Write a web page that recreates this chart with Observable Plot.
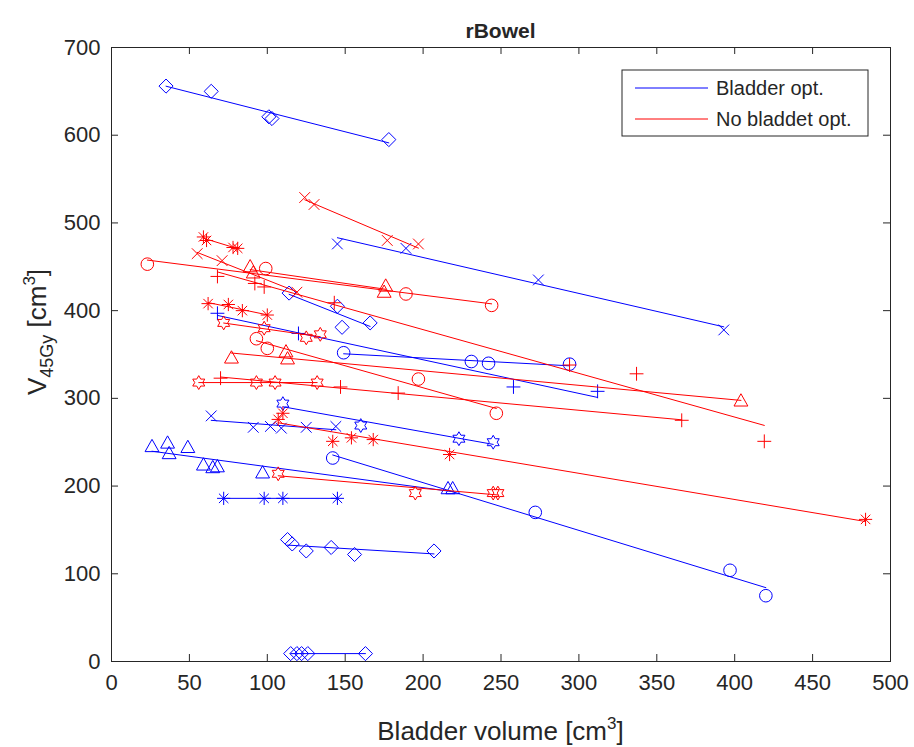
<!DOCTYPE html>
<html><head><meta charset="utf-8">
<script src="https://cdn.jsdelivr.net/npm/d3@7"></script>
<script src="https://cdn.jsdelivr.net/npm/@observablehq/plot@0.6"></script>
<style>html,body{margin:0;padding:0;background:#fff;} #chart svg{display:block;}</style>
</head><body><div id="chart"></div>
<script>
// ---- data (bladder volume [cm3], V45Gy [cm3]) ----
const xTicks = [0,50,100,150,200,250,300,350,400,450,500];
const yTicks = [0,100,200,300,400,500,600,700];
const groups = ["Bladder opt.", "No bladdet opt."];
const groupColors = ["#0000ff", "#ff0000"];

// Bladder opt. (blue)
const bDiamond1 = [[35,656],[64,650],[101,621],[103,619],[178,595]];
const bTimes1 = [[145,476],[189,471],[274,435],[393,378]];
const bDiamond2 = [[114,420],[145,405],[148,381],[166,386]];
const bCircle1 = [[149,352],[231,342],[242,340],[294,339]];
const bPlus1 = [[68,397],[120,374],[258,313],[312,308]];
const bHexagram1 = [[110,294],[160,269],[223,254],[245,250]];
const bTimes2 = [[64,280],[91,267],[102,268],[109,266],[125,267],[144,268]];
const bTriangle1 = [[26,245],[36,249],[37,237],[49,244],[59,224],[65,221],[68,222],[97,215],[216,197],[219,197]];
const bCircle2 = [[142,232],[272,170],[397,104],[420,75]];
const bAsterisk1 = [[72,186],[98,186],[110,186],[145,186]];
const bDiamond3 = [[113,139],[116,134],[125,126],[141,130],[156,122],[207,126]];
const bDiamond4 = [[115,9],[119,9],[122,9],[126,9],[163,9]];

// No bladdet opt. (red)
const rTimes1 = [[124,529],[130,521],[177,480],[197,476]];
const rAsterisk1 = [[59,484],[61,480],[78,472],[81,471]];
const rTimes2 = [[55,465],[71,457],[119,421]];
const rCircle1 = [[23,453],[99,448],[189,419],[244,406]];
const rTriangle1 = [[89,450],[91,443],[175,421],[176,428]];
const rPlus1 = [[68,439],[92,431],[98,427],[143,409],[294,338],[337,328],[419,251]];
const rAsterisk2 = [[62,408],[75,407],[84,400],[100,395]];
const rHexagram1 = [[72,386],[98,380],[125,369],[134,373]];
const rCircle2 = [[93,368],[100,357],[197,322],[247,283]];
const rTriangle2 = [[77,346],[112,353],[113,345],[404,297]];
const rPlus2 = [[70,323],[147,313],[184,306],[366,275]];
const rHexagram2 = [[56,318],[93,318],[105,318],[132,318]];
const rAsterisk3 = [[107,276],[110,283],[142,251],[154,255],[168,253],[217,236],[484,162]];
const rHexagram3 = [[107,214],[195,192],[245,192],[248,192]];

const seriesList = [
  {g:0, m:"diamond", pts:bDiamond1}, {g:0, m:"times", pts:bTimes1}, {g:0, m:"diamond", pts:bDiamond2},
  {g:0, m:"circle", pts:bCircle1}, {g:0, m:"plus", pts:bPlus1}, {g:0, m:"hexagram", pts:bHexagram1},
  {g:0, m:"times", pts:bTimes2}, {g:0, m:"triangle", pts:bTriangle1}, {g:0, m:"circle", pts:bCircle2},
  {g:0, m:"asterisk", pts:bAsterisk1}, {g:0, m:"diamond", pts:bDiamond3}, {g:0, m:"diamond", pts:bDiamond4},
  {g:1, m:"times", pts:rTimes1}, {g:1, m:"asterisk", pts:rAsterisk1}, {g:1, m:"times", pts:rTimes2},
  {g:1, m:"circle", pts:rCircle1}, {g:1, m:"triangle", pts:rTriangle1}, {g:1, m:"plus", pts:rPlus1},
  {g:1, m:"asterisk", pts:rAsterisk2}, {g:1, m:"hexagram", pts:rHexagram1}, {g:1, m:"circle", pts:rCircle2},
  {g:1, m:"triangle", pts:rTriangle2}, {g:1, m:"plus", pts:rPlus2}, {g:1, m:"hexagram", pts:rHexagram2},
  {g:1, m:"asterisk", pts:rAsterisk3}, {g:1, m:"hexagram", pts:rHexagram3}
];

// ---- MATLAB-like marker symbols ----
function mk(fn){ return {draw(ctx, size){ const r = Math.sqrt(size/Math.PI); fn(ctx, r); }}; }
const SYM = {
  circle: mk((c,r)=>{ c.moveTo(r,0); c.arc(0,0,r,0,2*Math.PI); c.closePath(); }),
  diamond: mk((c,r)=>{ const a=r*1.12; c.moveTo(0,-a); c.lineTo(a,0); c.lineTo(0,a); c.lineTo(-a,0); c.closePath(); }),
  triangle: mk((c,r)=>{ c.moveTo(0,-r*1.15); c.lineTo(r*1.1,r*0.8); c.lineTo(-r*1.1,r*0.8); c.closePath(); }),
  plus: mk((c,r)=>{ const a=r*1.1; c.moveTo(-a,0); c.lineTo(a,0); c.moveTo(0,-a); c.lineTo(0,a); }),
  times: mk((c,r)=>{ const a=r*0.85; c.moveTo(-a,-a); c.lineTo(a,a); c.moveTo(-a,a); c.lineTo(a,-a); }),
  asterisk: mk((c,r)=>{ const a=r*1.05, b=r*0.75; c.moveTo(-a,0); c.lineTo(a,0); c.moveTo(0,-a); c.lineTo(0,a); c.moveTo(-b,-b); c.lineTo(b,b); c.moveTo(-b,b); c.lineTo(b,-b); }),
  hexagram: mk((c,r)=>{ const R=r*1.1, ri=R/Math.sqrt(3); for(let i=0;i<12;i++){ const ang=-Math.PI/2+i*Math.PI/6; const rr=i%2===0?R:ri; const x=rr*Math.cos(ang), y=rr*Math.sin(ang); if(i) c.lineTo(x,y); else c.moveTo(x,y);} c.closePath(); })
};

const W = 914, H = 747, mL = 111, mR = 24, mT = 47, mB = 86;
const plotW = W - mL - mR, plotH = H - mT - mB;
const ink = "#262626";
const font = "'Liberation Sans', Arial, Helvetica, sans-serif";

const marks = [];
for (const s of seriesList) {
  const data = s.pts.map(([x,y]) => ({x, y}));
  const col = groupColors[s.g];
  marks.push(Plot.linearRegressionY(data, {x:"x", y:"y", stroke: col, strokeWidth: 1, ci: 0}));
  marks.push(Plot.dot(data, {x:"x", y:"y", symbol: SYM[s.m], r: 6.3, stroke: col, fill: "none", strokeWidth: 1}));
}
// inward ticks on all four sides (MATLAB box style)
marks.push(Plot.tickX(xTicks, {x: d=>d, stroke: ink, insetTop: plotH - 7}));
marks.push(Plot.tickX(xTicks, {x: d=>d, stroke: ink, insetBottom: plotH - 7}));
marks.push(Plot.tickY(yTicks, {y: d=>d, stroke: ink, insetRight: plotW - 7}));
marks.push(Plot.tickY(yTicks, {y: d=>d, stroke: ink, insetLeft: plotW - 7}));
marks.push(Plot.axisX({ticks: xTicks, tickSize: 0, tickPadding: 13, fontSize: 22, label: null, tickFormat: d=>String(d)}));
marks.push(Plot.axisY({ticks: yTicks, tickSize: 0, tickPadding: 11, fontSize: 22, label: null, tickFormat: d=>String(d)}));
marks.push(Plot.frame({stroke: ink}));

const chart = Plot.plot({
  width: W, height: H, marginLeft: mL, marginRight: mR, marginTop: mT, marginBottom: mB,
  x: {domain: [0, 500], label: null},
  y: {domain: [0, 700], label: null},
  style: {fontFamily: font, color: ink, background: "white", overflow: "visible"},
  marks
});
document.getElementById("chart").appendChild(chart);

// ---- title, axis labels, legend ----
const svg = d3.select(chart);
const cx = mL + plotW/2;
svg.append("text").attr("x", cx).attr("y", 38).attr("text-anchor","middle")
  .attr("font-family", font).attr("font-size", 21).attr("font-weight","bold").attr("fill", ink).text("rBowel");

const xl = svg.append("text").attr("x", cx).attr("y", 740).attr("text-anchor","middle")
  .attr("font-family", font).attr("font-size", 26).attr("fill", ink);
xl.append("tspan").text("Bladder volume [cm");
xl.append("tspan").attr("font-size", 17).attr("dy", -11).text("3");
xl.append("tspan").attr("dy", 11).text("]");

const yl = svg.append("text").attr("transform", `translate(46,${mT + plotH/2 - 22}) rotate(-90)`).attr("text-anchor","middle")
  .attr("font-family", font).attr("font-size", 26).attr("fill", ink);
yl.append("tspan").text("V");
yl.append("tspan").attr("font-size", 18).attr("dy", 7).text("45Gy");
yl.append("tspan").attr("dy", -7).text(" [cm");
yl.append("tspan").attr("font-size", 17).attr("dy", -11).text("3");
yl.append("tspan").attr("dy", 11).text("]");

const lgRight = mL + plotW - 22, lgTop = mT + 23, lgW = 246, lgH = 66;
const lg = svg.append("g");
lg.append("rect").attr("x", lgRight - lgW).attr("y", lgTop).attr("width", lgW).attr("height", lgH)
  .attr("fill", "white").attr("stroke", ink).attr("stroke-width", 1);
groups.forEach((name, i) => {
  const yy = lgTop + 18 + i*31;
  lg.append("line").attr("x1", lgRight - lgW + 13).attr("x2", lgRight - lgW + 86).attr("y1", yy).attr("y2", yy)
    .attr("stroke", groupColors[i]).attr("stroke-width", 1);
  lg.append("text").attr("x", lgRight - lgW + 94).attr("y", yy + 7).attr("text-anchor", "start")
    .attr("font-family", font).attr("font-size", 20).attr("fill", ink).text(name);
});
</script></body></html>
